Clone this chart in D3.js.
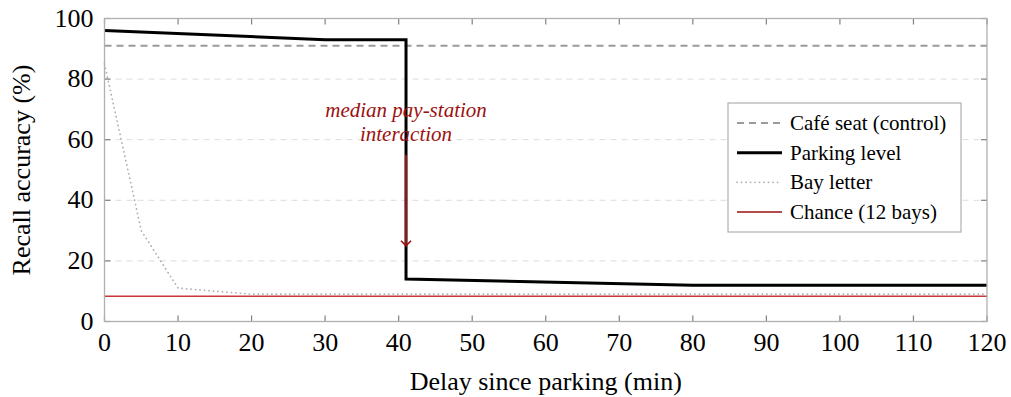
<!DOCTYPE html>
<html>
<head>
<meta charset="utf-8">
<script src="https://cdn.jsdelivr.net/npm/d3@7"></script>
<style>
  body { margin: 0; background: #fff; }
  text { font-family: "Liberation Serif", "Times New Roman", Times, "DejaVu Serif", serif; }
</style>
</head>
<body>
<svg id="chart" width="1011" height="397"></svg>
<script>
// data
const cafeX = [0, 120];
const cafeY = [91, 91];

const levelX = [0, 30, 41, 41, 80, 120];
const levelY = [96, 93, 93, 14, 12, 12];

const bayX = [0, 5, 10, 20, 30, 41, 60, 80, 100, 120];
const bayY = [85, 30, 11, 9, 9, 9, 9, 9, 9, 9];

const chanceX = [0, 120];
const chanceY = [100 / 12, 100 / 12];

const xTicks = [0, 10, 20, 30, 40, 50, 60, 70, 80, 90, 100, 110, 120];
const yTicks = [0, 20, 40, 60, 80, 100];

const legendNames = ["Café seat (control)", "Parking level", "Bay letter", "Chance (12 bays)"];

const annotX = 41, annotFrom = 55, annotTo = 25;

const svg = d3.select("#chart");
const pL = 104.5, pR = 987, pT = 18.5, pB = 321.5;
const serif = "'Liberation Serif', 'Times New Roman', serif";

const x = d3.scaleLinear().domain([0, 120]).range([pL, pR]);
const y = d3.scaleLinear().domain([0, 100]).range([pB, pT]);

const zip = (xs, ys) => xs.map((v, i) => [v, ys[i]]);
const line = d3.line().x(d => x(d[0])).y(d => y(d[1]));

// horizontal grid
svg.append("g")
    .selectAll("line")
    .data(yTicks.filter(t => t > 0 && t < 100))
    .enter().append("line")
    .attr("x1", pL).attr("x2", pR)
    .attr("y1", d => y(d)).attr("y2", d => y(d))
    .attr("stroke", "#dcdcdc")
    .attr("stroke-width", 1)
    .attr("stroke-dasharray", "6,5");

// inside ticks
const tickCol = "#808080", tickLen = 6;
const ticks = svg.append("g").attr("stroke", tickCol).attr("stroke-width", 1.2);
xTicks.forEach(t => {
    ticks.append("line").attr("x1", x(t)).attr("x2", x(t)).attr("y1", pB).attr("y2", pB - tickLen);
    ticks.append("line").attr("x1", x(t)).attr("x2", x(t)).attr("y1", pT).attr("y2", pT + tickLen);
});
yTicks.forEach(t => {
    ticks.append("line").attr("y1", y(t)).attr("y2", y(t)).attr("x1", pL).attr("x2", pL + tickLen);
    ticks.append("line").attr("y1", y(t)).attr("y2", y(t)).attr("x1", pR).attr("x2", pR - tickLen);
});

// series
const series = [
    { name: legendNames[0], pts: zip(cafeX, cafeY), color: "#9a9a9a", width: 2, dash: "7,5" },
    { name: legendNames[1], pts: zip(levelX, levelY), color: "#000", width: 3, dash: null },
    { name: legendNames[2], pts: zip(bayX, bayY), color: "#b0b0b0", width: 1.8, dash: "0.1,4.4", cap: "round" },
    { name: legendNames[3], pts: zip(chanceX, chanceY), color: "#c8363a", width: 1.3, dash: null }
];

// draw chance & bay under the level line
[3, 2, 0, 1].forEach(i => {
    const s = series[i];
    svg.append("path")
        .attr("d", line(s.pts))
        .attr("fill", "none")
        .attr("stroke", s.color)
        .attr("stroke-width", s.width)
        .attr("stroke-dasharray", s.dash)
        .attr("stroke-linecap", s.cap || "butt")
        .attr("stroke-linejoin", "miter");
});

// axis box
svg.append("rect")
    .attr("x", pL).attr("y", pT)
    .attr("width", pR - pL).attr("height", pB - pT)
    .attr("fill", "none")
    .attr("stroke", "#b0b0b0")
    .attr("stroke-width", 1.3);

// annotation
const red = "#9b1111";
svg.append("defs").append("marker")
    .attr("id", "arr")
    .attr("viewBox", "-6 -6 12 12")
    .attr("refX", 0).attr("refY", 0)
    .attr("markerWidth", 12).attr("markerHeight", 12)
    .attr("markerUnits", "userSpaceOnUse")
    .attr("orient", "auto")
    .append("path")
    .attr("d", "M-5,-5 L0,0 L-5,5")
    .attr("fill", "none")
    .attr("stroke", red)
    .attr("stroke-width", 1.6);

svg.append("line")
    .attr("x1", x(annotX)).attr("x2", x(annotX))
    .attr("y1", y(annotFrom)).attr("y2", y(annotTo))
    .attr("stroke", red)
    .attr("stroke-width", 2)
    .attr("marker-end", "url(#arr)");

const annot = svg.append("text")
    .attr("font-family", serif)
    .attr("text-anchor", "middle")
    .attr("font-style", "italic")
    .attr("font-size", 21)
    .attr("fill", red);
annot.append("tspan").attr("x", x(annotX)).attr("y", 117).text("median pay-station");
annot.append("tspan").attr("x", x(annotX)).attr("y", 141).text("interaction");

// tick labels
svg.append("g").selectAll("text")
    .data(xTicks).enter().append("text")
    .attr("font-family", serif)
    .attr("x", d => x(d)).attr("y", pB + 29)
    .attr("text-anchor", "middle")
    .attr("font-size", 26)
    .text(d => d);

svg.append("g").selectAll("text")
    .data(yTicks).enter().append("text")
    .attr("font-family", serif)
    .attr("x", pL - 11).attr("y", d => y(d) + 8)
    .attr("text-anchor", "end")
    .attr("font-size", 26)
    .text(d => d);

// axis titles
svg.append("text")
    .attr("font-family", serif)
    .attr("x", (pL + pR) / 2).attr("y", 390)
    .attr("text-anchor", "middle")
    .attr("font-size", 26)
    .text("Delay since parking (min)");

svg.append("text")
    .attr("font-family", serif)
    .attr("transform", "translate(30," + ((pT + pB) / 2) + ") rotate(-90)")
    .attr("text-anchor", "middle")
    .attr("font-size", 26)
    .text("Recall accuracy (%)");

// legend
const lg = svg.append("g");
lg.append("rect")
    .attr("x", 728).attr("y", 103)
    .attr("width", 233).attr("height", 129)
    .attr("fill", "#fff")
    .attr("stroke", "#b0b0b0")
    .attr("stroke-width", 1.2);

const rowY = d3.scalePoint().domain(legendNames).range([123, 212]);
series.forEach(s => {
    const yy = rowY(s.name);
    lg.append("line")
        .attr("x1", 737).attr("x2", 782)
        .attr("y1", yy).attr("y2", yy)
        .attr("stroke", s.name === legendNames[3] ? "#9b1111" : s.color)
        .attr("stroke-width", s.width)
        .attr("stroke-dasharray", s.dash)
        .attr("stroke-linecap", s.cap || "butt");
    lg.append("text")
        .attr("font-family", serif)
        .attr("x", 790).attr("y", yy + 7)
        .attr("font-size", 21)
        .text(s.name);
});
</script>
</body>
</html>
